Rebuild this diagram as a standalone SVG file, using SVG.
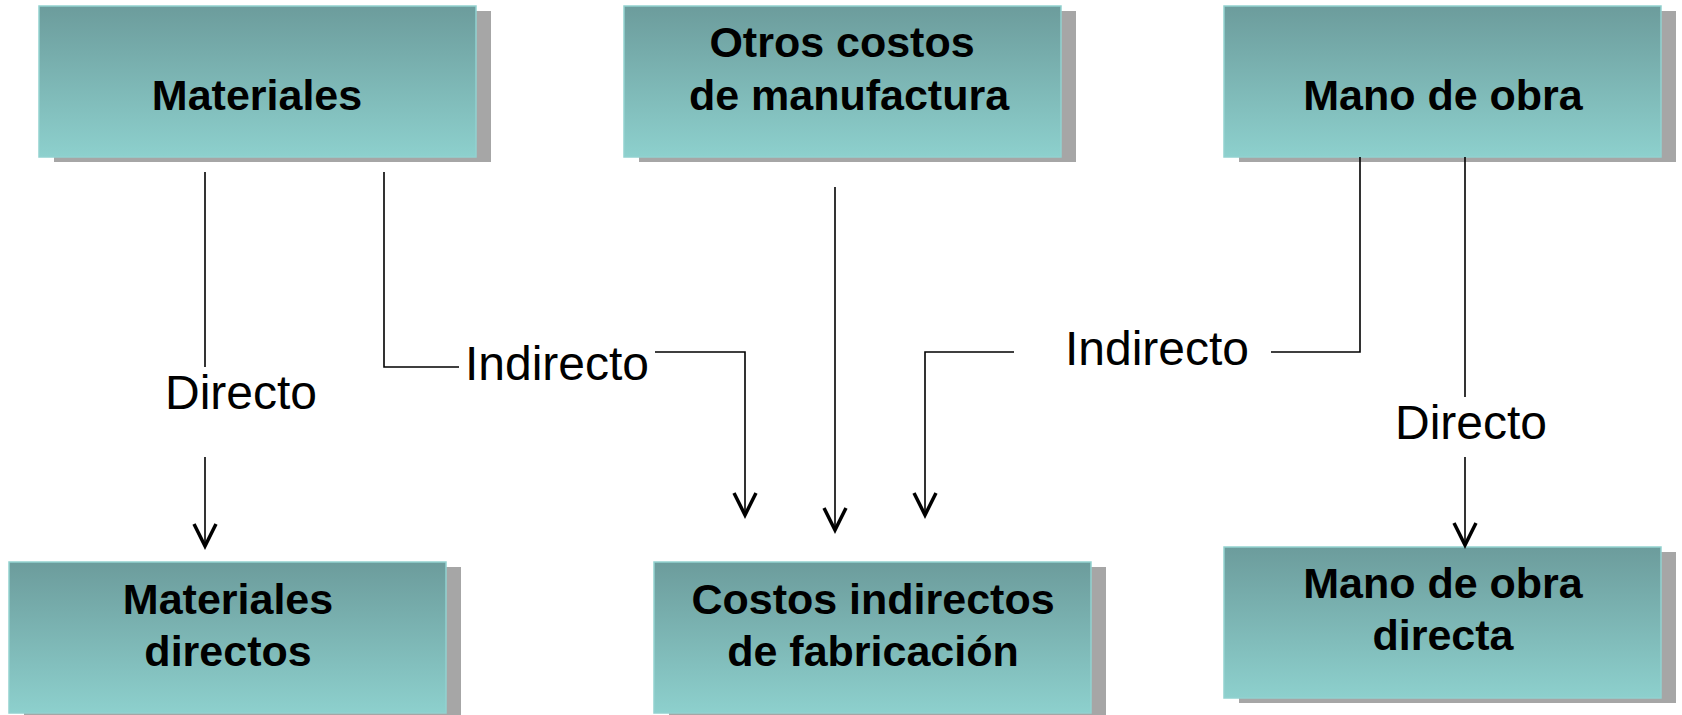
<svg xmlns="http://www.w3.org/2000/svg" width="1682" height="715" viewBox="0 0 1682 715">
<defs>
<linearGradient id="g" x1="0" y1="0" x2="0" y2="1">
<stop offset="0" stop-color="#6c9c9c"/>
<stop offset="1" stop-color="#8dd0cd"/>
</linearGradient>
<marker id="v" markerUnits="userSpaceOnUse" viewBox="-26 -15 30 30" refX="0" refY="0" markerWidth="30" markerHeight="30" orient="auto">
<path d="M-22,-11 L0,0 L-22,11" fill="none" stroke="#000" stroke-width="3.5"/>
</marker>
</defs>
<style>
.sh{fill:#a6a6a6}
.bx{fill:url(#g);stroke:#92d2d0;stroke-width:1.5}
.t{font-family:"Liberation Sans",Arial,sans-serif;font-weight:bold;font-size:43px;fill:#000;text-anchor:middle}
.l{font-family:"Liberation Sans",Arial,sans-serif;font-size:48px;fill:#000;text-anchor:middle}
.c{fill:none;stroke:#000;stroke-width:1.6}
</style>
<rect width="1682" height="715" fill="#fff"/>

<g id="materiales">
<rect class="sh" x="54" y="11" width="437" height="151"/>
<rect class="bx" x="39" y="6" width="437" height="151"/>
<text class="t" x="257" y="110">Materiales</text>
</g>
<g id="otros">
<rect class="sh" x="639" y="11" width="437" height="151"/>
<rect class="bx" x="624" y="6" width="437" height="151"/>
<text class="t" x="842" y="57">Otros costos</text>
<text class="t" x="849" y="110">de manufactura</text>
</g>
<g id="mano">
<rect class="sh" x="1239" y="11" width="437" height="151"/>
<rect class="bx" x="1224" y="6" width="437" height="151"/>
<text class="t" x="1443" y="110">Mano de obra</text>
</g>
<g id="materiales-directos">
<rect class="sh" x="24" y="567" width="437" height="151"/>
<rect class="bx" x="9" y="562" width="437" height="151"/>
<text class="t" x="228" y="614">Materiales</text>
<text class="t" x="228" y="666">directos</text>
</g>
<g id="costos-indirectos">
<rect class="sh" x="669" y="567" width="437" height="151"/>
<rect class="bx" x="654" y="562" width="437" height="151"/>
<text class="t" x="873" y="614">Costos indirectos</text>
<text class="t" x="873" y="666">de fabricación</text>
</g>
<g id="mano-directa">
<rect class="sh" x="1239" y="552" width="437" height="151"/>
<rect class="bx" x="1224" y="547" width="437" height="151"/>
<text class="t" x="1443" y="598">Mano de obra</text>
<text class="t" x="1443" y="650">directa</text>
</g>

<g id="connectors">
<line class="c" x1="205" y1="172" x2="205" y2="367"/>
<text class="l" x="241" y="409">Directo</text>
<line class="c" x1="205" y1="457" x2="205" y2="546" marker-end="url(#v)"/>

<polyline class="c" points="384,172 384,367 459,367"/>
<text class="l" x="557" y="380">Indirecto</text>
<polyline class="c" points="655,352 745,352 745,515" marker-end="url(#v)"/>

<line class="c" x1="835" y1="187" x2="835" y2="530" marker-end="url(#v)"/>

<polyline class="c" points="1360,157 1360,352 1271,352"/>
<text class="l" x="1157" y="365">Indirecto</text>
<polyline class="c" points="1014,352 925,352 925,515" marker-end="url(#v)"/>

<line class="c" x1="1465" y1="157" x2="1465" y2="397"/>
<text class="l" x="1471" y="439">Directo</text>
<line class="c" x1="1465" y1="457" x2="1465" y2="545" marker-end="url(#v)"/>
</g>
</svg>
